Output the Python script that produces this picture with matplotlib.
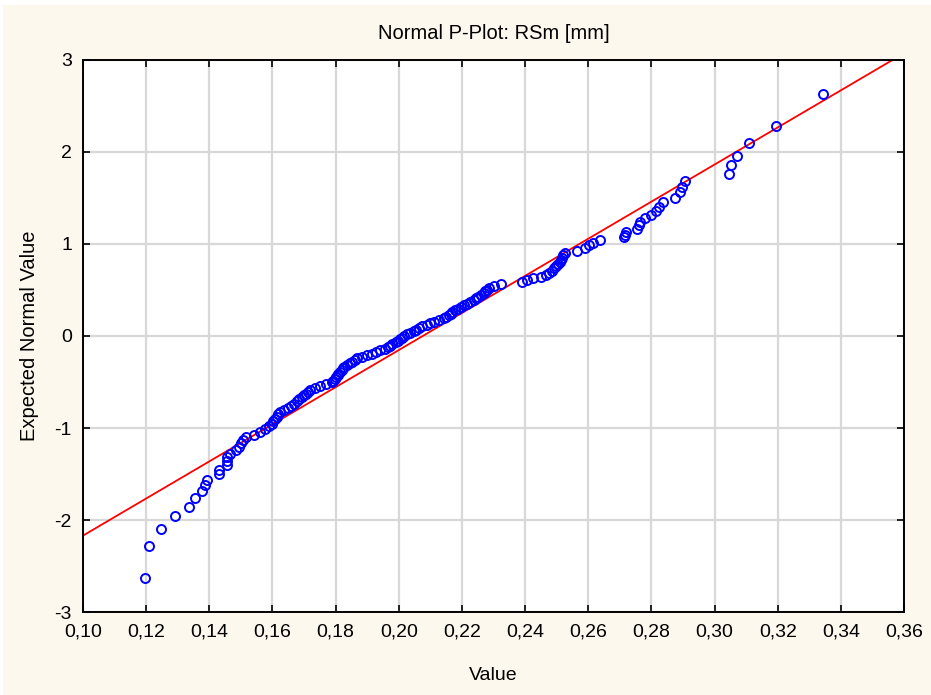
import numpy as np
import matplotlib
matplotlib.use("Agg")
import matplotlib.pyplot as plt
from statistics import NormalDist

plt.rcParams["font.family"] = ["Liberation Sans", "DejaVu Sans"]
plt.rcParams["axes.unicode_minus"] = False

values = [
    0.1197, 0.1208, 0.1246, 0.1292, 0.1335, 0.1355, 0.1376, 0.1387, 0.1392, 0.1432,
    0.1432, 0.1455, 0.1455, 0.1457, 0.1466, 0.1485, 0.1495, 0.1500, 0.1508, 0.1515,
    0.1540, 0.1561, 0.1577, 0.1590, 0.1600, 0.1603, 0.1608, 0.1614, 0.1618, 0.1624,
    0.1635, 0.1648, 0.1660, 0.1668, 0.1677, 0.1685, 0.1695, 0.1700, 0.1705, 0.1712,
    0.1720, 0.1735, 0.1751, 0.1770, 0.1788, 0.1793, 0.1798, 0.1802, 0.1806, 0.1809,
    0.1815, 0.1820, 0.1824, 0.1828, 0.1836, 0.1845, 0.1852, 0.1860, 0.1868, 0.1885,
    0.1900, 0.1915, 0.1928, 0.1940, 0.1955, 0.1965, 0.1972, 0.1980, 0.1990, 0.1998,
    0.2005, 0.2010, 0.2018,
    0.2025, 0.2035, 0.2047, 0.2055, 0.2065, 0.2075, 0.2088, 0.2100, 0.2112, 0.2128,
    0.2142, 0.2150, 0.2158, 0.2164, 0.2169, 0.2178, 0.2188, 0.2198, 0.2206, 0.2215,
    0.2225, 0.2237, 0.2245, 0.2252, 0.2260, 0.2269, 0.2274, 0.2280, 0.2286, 0.2300,
    0.2325, 0.2390, 0.2406, 0.2425, 0.2450, 0.2465, 0.2475, 0.2486, 0.2492, 0.2498,
    0.2505, 0.2510, 0.2513, 0.2516, 0.2519, 0.2525, 0.2565, 0.2591, 0.2601, 0.2615,
    0.2637, 0.2713, 0.2716, 0.2720, 0.2755, 0.2760, 0.2764, 0.2780, 0.2800, 0.2813,
    0.2825, 0.2838, 0.2875, 0.2890, 0.2896, 0.2905, 0.3045, 0.3051, 0.3072, 0.3109,
    0.3196, 0.3343,
]

x_ticks = [0.10, 0.12, 0.14, 0.16, 0.18, 0.20, 0.22, 0.24, 0.26, 0.28, 0.30, 0.32, 0.34, 0.36]
y_ticks = [-3, -2, -1, 0, 1, 2, 3]

x = np.sort(np.array(values))
n = len(x)
nd = NormalDist()
# expected normal values (Blom)
expected = np.array([nd.inv_cdf((i - 0.375) / (n + 0.25)) for i in range(1, n + 1)])

# fitted reference line
slope, intercept = np.polyfit(x, expected, 1)

bg = "#fcf8ee"
fig = plt.figure(figsize=(9.31, 6.95), dpi=100, facecolor=bg)
ax = fig.add_axes([0.0892, 0.1194, 0.8818, 0.7943])
ax.set_facecolor("white")

ax.grid(True, color="#d8d8d8", linewidth=1.6, zorder=0)
ax.set_axisbelow(True)

line_x = np.array([0.10, 0.36])
ax.plot(line_x, slope * line_x + intercept, color="red", linewidth=1.3, zorder=2)
ax.plot(x, expected, "o", markerfacecolor="none", markeredgecolor="blue",
        markersize=6.5, markeredgewidth=1.4, zorder=3)

ax.set_xlim(0.10, 0.36)
ax.set_ylim(-3, 3)
ax.set_xticks(x_ticks)
ax.set_xticklabels([f"{t:.2f}".replace(".", ",") for t in x_ticks])
ax.set_yticks(y_ticks)
ax.tick_params(direction="in", length=5, width=1.2, top=True, right=True,
               labelsize=14, pad=8)
for s in ax.spines.values():
    s.set_linewidth(1.4)

ax.set_title("Normal P-Plot: RSm [mm]", fontsize=14.5, pad=15)
ax.set_xlabel("Value", fontsize=14, labelpad=19)
ax.set_ylabel("Expected Normal Value", fontsize=14.5, labelpad=11)

# thin white margin at the top and left edge
fig.patches.append(plt.Rectangle((0, 0.993), 1, 0.007, transform=fig.transFigure,
                                 facecolor="white", edgecolor="none"))
fig.patches.append(plt.Rectangle((0, 0), 0.003, 1, transform=fig.transFigure,
                                 facecolor="white", edgecolor="none"))

fig.savefig("out.png", dpi=100, facecolor=bg)
